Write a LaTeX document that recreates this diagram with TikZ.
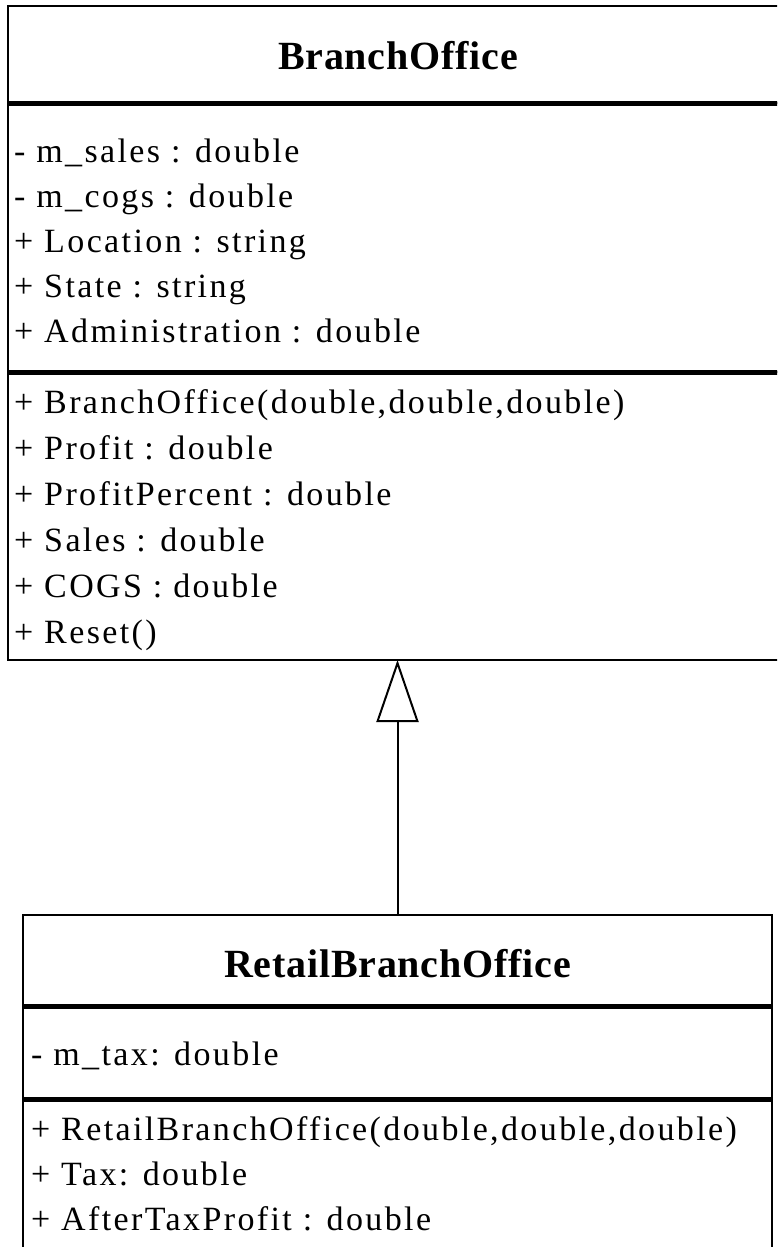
\documentclass[tikz,border=0pt]{standalone}
\usepackage{fontspec}
\setmainfont{Liberation Serif}
\newfontfamily\membfont[LetterSpace=7]{Liberation Serif}
\newfontfamily\headfont[LetterSpace=2]{Liberation Serif Bold}
\usetikzlibrary{positioning}
\usetikzlibrary{arrows.meta}

\tikzset{
    compart/.style={draw, line width=2.5pt, inner sep=0pt, outer sep=0pt},
    divider/.style={line width=5pt},
    classname/.style={anchor=base, inner sep=0pt, font=\headfont\fontsize{40}{48}\selectfont},
    member/.style={anchor=base west, inner sep=0pt, font=\membfont\fontsize{34}{40}\selectfont},
    extends/.style={line width=2pt, -{Triangle[open, length=62pt, width=42pt]}}
}

\begin{document}
\begin{tikzpicture}[x=1pt,y=1pt]
        \useasboundingbox (0,0) rectangle (777,-1247);
        \clip (0,0) rectangle (777,-1247);
        %BranchOffice compartments
            \node[compart, minimum width=782pt, minimum height=97pt] (bohead) at (399,-54.5) {};
            \node[compart, minimum width=782pt, minimum height=269pt, below=0pt of bohead] (boattr) {};
            \node[compart, minimum width=782pt, minimum height=288pt, below=0pt of boattr] (bometh) {};
            \draw[divider] (bohead.south west) -- (bohead.south east);
            \draw[divider] (boattr.south west) -- (boattr.south east);
        %BranchOffice name and members
            \node[classname] (boname) at (398,-70) {BranchOffice};
            \foreach \txt [count=\i] in {- m\_sales : double, - m\_cogs : double, + Location : string, + State : string, + Administration : double}
            {
                \node[member] (bofield\i) at (14,-117-45*\i) {\txt};
            }
            \foreach \txt [count=\i] in {{+ BranchOffice(double,double,double)}, + Profit : double, + ProfitPercent : double, + Sales : double, + COGS : double, + Reset()}
            {
                \node[member] (boop\i) at (14,-367-46*\i) {\txt};
            }
        %RetailBranchOffice compartments
            \node[compart, minimum width=749pt, minimum height=91.5pt] (rbhead) at (397.5,-960.75) {};
            \node[compart, minimum width=749pt, minimum height=92.5pt, below=0pt of rbhead] (rbattr) {};
            \node[compart, minimum width=749pt, minimum height=220pt, below=0pt of rbattr] (rbmeth) {};
            \draw[divider] (rbhead.south west) -- (rbhead.south east);
            \draw[divider] (rbattr.south west) -- (rbattr.south east);
        %RetailBranchOffice name and members
            \node[classname] (rbname) at (397.5,-977) {RetailBranchOffice};
            \node[member] (rbfield1) at (31,-1065) {- m\_tax: double};
            \foreach \txt [count=\i] in {{+ RetailBranchOffice(double,double,double)}, + Tax: double, + AfterTaxProfit : double}
            {
                \node[member] (rbop\i) at (31,-1095-45*\i) {\txt};
            }
        %Generalization
            \draw[extends] (rbhead.north) -- (rbhead.north |- bometh.south);
\end{tikzpicture}
\end{document}
